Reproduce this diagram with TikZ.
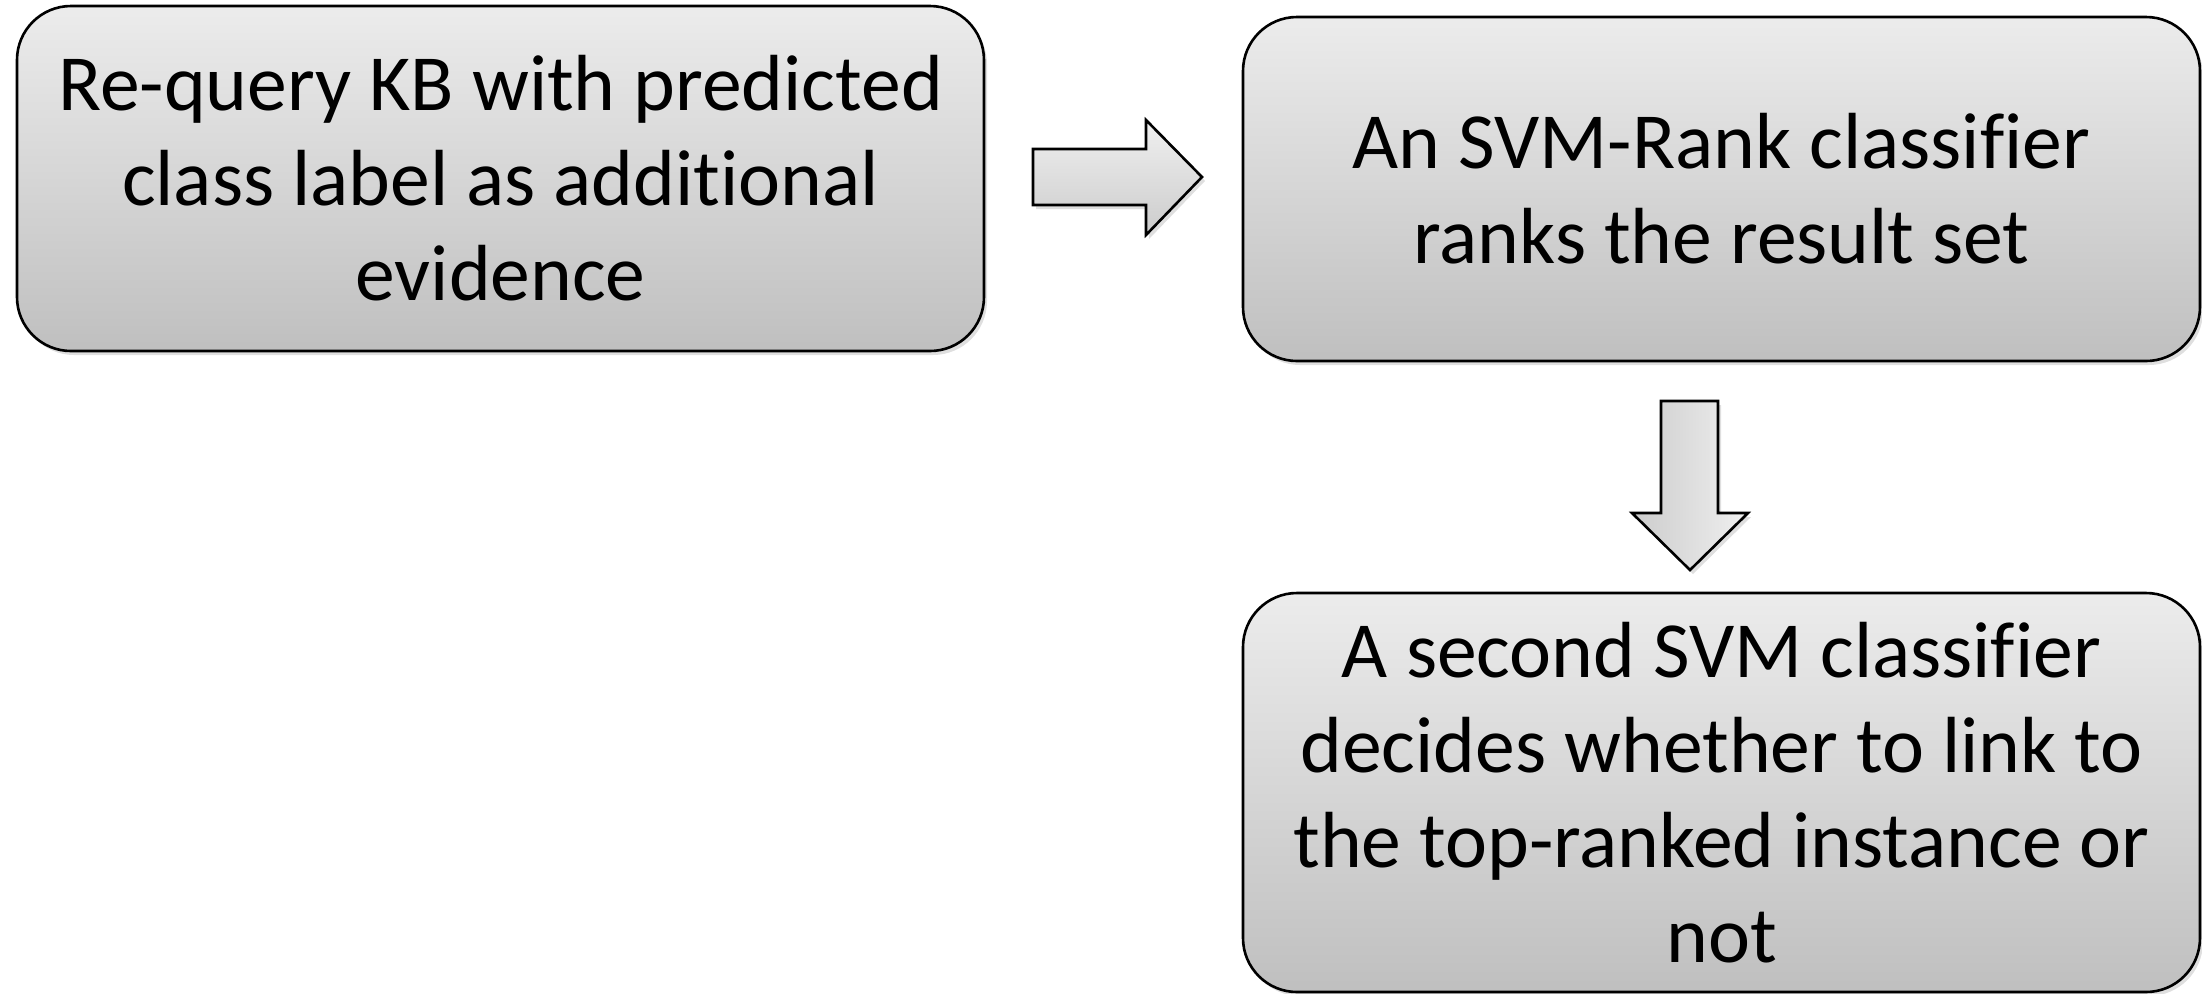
\documentclass[tikz,border=0pt]{standalone}
\usepackage{fontspec}
\setmainfont[Ligatures=NoCommon]{Carlito}
\usetikzlibrary{shadows}
\tikzset{
  box/.style={draw=black, line width=1.3pt, rounded corners=27pt,
    top color=gray!15, bottom color=gray!50,
    drop shadow={opacity=0.25, shadow xshift=1.5pt, shadow yshift=-2pt},
    align=center, inner sep=0pt,
    font=\fontsize{39.8}{47.5}\selectfont},
  blockarrow/.style={draw=black, line width=1.3pt, top color=gray!12, bottom color=gray!40,
    drop shadow={opacity=0.25, shadow xshift=1.5pt, shadow yshift=-2pt}},
  blockarrowv/.style={draw=black, line width=1.3pt, left color=gray!40, right color=gray!12,
    drop shadow={opacity=0.25, shadow xshift=1.5pt, shadow yshift=-2pt}}
}
\begin{document}
\begin{tikzpicture}[x=0.5pt,y=-0.5pt]
\useasboundingbox (0,0) rectangle (2202,993);
\node[box, minimum width=483.5pt, minimum height=172.5pt] (b1) at (500.5,178.5)
  {Re-query KB with predicted\\class label as addit\kern0pt ional\\evidence};
\node[box, minimum width=478.5pt, minimum height=172pt] (b2) at (1721.5,189)
  {An SVM-Rank classifier\\ranks the result set};
\node[box, minimum width=478.5pt, minimum height=199.5pt] (b3) at (1721.5,792.5)
  {A second SVM classifier\\decides whether to link to\\the top-ranked instance or\\not};
\draw[blockarrow] (1033,149) -- (1146,149) -- (1146,120) -- (1202,177) -- (1146,235) -- (1146,205) -- (1033,205) -- cycle;
\draw[blockarrowv] (1661,401) -- (1718,401) -- (1718,513) -- (1748,513) -- (1690,570) -- (1632,513) -- (1661,513) -- cycle;
\end{tikzpicture}
\end{document}
